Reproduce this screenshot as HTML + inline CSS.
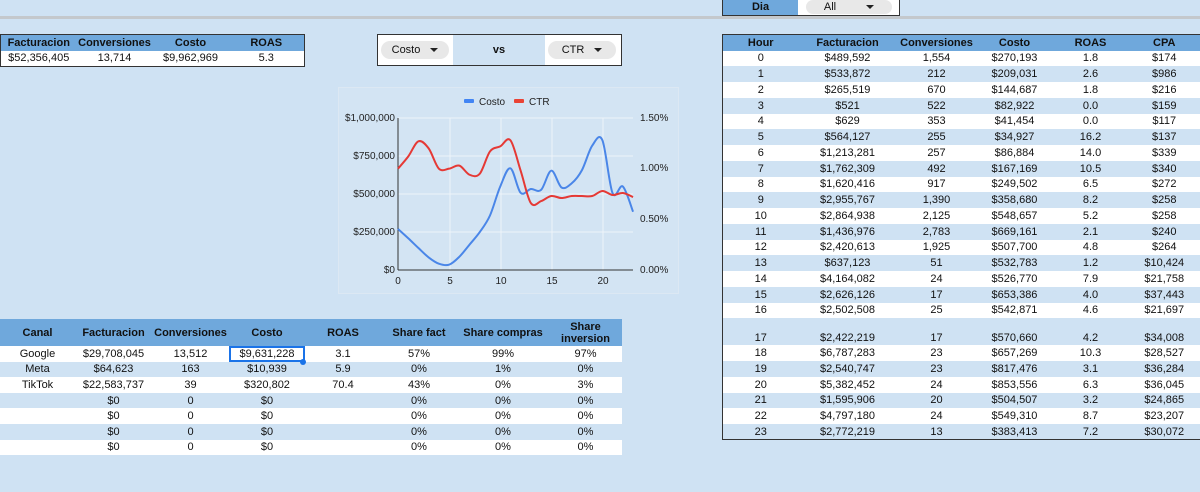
<!DOCTYPE html>
<html><head><meta charset="utf-8">
<style>
*{margin:0;padding:0;box-sizing:border-box}
body{width:1200px;height:492px;background:#cfe2f3;font-family:"Liberation Sans",Arial,sans-serif;font-size:11px;color:#111;position:relative;overflow:hidden}
.abs{position:absolute}
table{border-collapse:collapse;table-layout:fixed;position:absolute}
td,th{text-align:center;padding:0;white-space:nowrap;overflow:hidden}
th{background:#6fa8dc;font-weight:bold;color:#111}
tr.w td{background:#fff}
tr.b td{background:#cfe2f3}
.pill{position:absolute;background:#e8e8e8;border-radius:9px;height:18px;font-size:11px;line-height:18px}
.tri{display:inline-block;width:0;height:0;border-left:4px solid transparent;border-right:4px solid transparent;border-top:4px solid #222;vertical-align:middle;margin-left:10px}
</style></head><body>
<div class="abs" style="left:0;top:16px;width:1200px;height:3px;background:#c4c8cc"></div>
<!-- Dia -->
<div class="abs" style="left:722px;top:0;width:178px;height:16px;border:1px solid #333;border-top:none;background:#fff"></div>
<div class="abs" style="left:723px;top:0;width:75px;height:15px;background:#6fa8dc;font-weight:bold;text-align:center;line-height:15px">Dia</div>
<div class="pill" style="left:806px;top:0;width:86px;height:14px;line-height:14px;text-align:center;background:#e8e8e8">All<span class="tri" style="margin-left:30px"></span></div>

<!-- top-left table -->
<table style="left:0;top:34px;width:304px;border:1px solid #333">
<colgroup><col style="width:76px"><col style="width:76px"><col style="width:76px"><col style="width:76px"></colgroup>
<tr style="height:16px"><th>Facturacion</th><th>Conversiones</th><th>Costo</th><th>ROAS</th></tr>
<tr class="w" style="height:16px"><td>$52,356,405</td><td>13,714</td><td>$9,962,969</td><td>5.3</td></tr>
</table>

<!-- selector -->
<div class="abs" style="left:377px;top:34px;width:245px;height:32px;border:1px solid #333;background:#fff"></div>
<div class="abs" style="left:453px;top:35px;width:92px;height:30px;background:#cfe2f3;text-align:center;line-height:30px;font-weight:bold">vs</div>
<div class="pill" style="left:381px;top:41px;width:68px;text-align:center">Costo<span class="tri"></span></div>
<div class="pill" style="left:548px;top:41px;width:68px;text-align:center">CTR<span class="tri"></span></div>

<!-- chart -->
<div class="abs" style="left:338px;top:87px;width:341px;height:207px;background:#d3e4f3;border:1px solid #dce8f3"></div>
<svg class="abs" style="left:0;top:0" width="1200" height="492" font-family="Liberation Sans, Arial, sans-serif" font-size="10" fill="#222">
<g stroke="#eef4fa" stroke-width="1">
<line x1="398" y1="118" x2="633" y2="118"/><line x1="398" y1="156" x2="633" y2="156"/><line x1="398" y1="194" x2="633" y2="194"/><line x1="398" y1="232" x2="633" y2="232"/>
<line x1="450" y1="118" x2="450" y2="270"/><line x1="501" y1="118" x2="501" y2="270"/><line x1="552" y1="118" x2="552" y2="270"/><line x1="603" y1="118" x2="603" y2="270"/>
</g>
<line x1="398" y1="118" x2="398" y2="270" stroke="#333"/>
<line x1="398" y1="270" x2="633" y2="270" stroke="#333"/>
<g text-anchor="end">
<text x="395" y="121">$1,000,000</text><text x="395" y="159">$750,000</text><text x="395" y="197">$500,000</text><text x="395" y="235">$250,000</text><text x="395" y="273">$0</text>
</g>
<g>
<text x="640" y="121">1.50%</text><text x="640" y="171">1.00%</text><text x="640" y="222">0.50%</text><text x="640" y="273">0.00%</text>
</g>
<g text-anchor="middle">
<text x="398" y="284">0</text><text x="450" y="284">5</text><text x="501" y="284">10</text><text x="552" y="284">15</text><text x="603" y="284">20</text>
</g>
<rect x="464" y="99" width="10" height="4" rx="1" fill="#4285f4"/><text x="479" y="105">Costo</text>
<rect x="514" y="99" width="10" height="4" rx="1" fill="#ea4335"/><text x="529" y="105">CTR</text>
<path id="pc" fill="none" stroke="#4a86e8" stroke-width="2"/>
<path id="pr" fill="none" stroke="#e53935" stroke-width="2"/>
</svg>

<!-- bottom-left table -->
<table style="left:0;top:319px;width:622px">
<colgroup><col style="width:75px"><col style="width:77px"><col style="width:77px"><col style="width:76px"><col style="width:76px"><col style="width:76px"><col style="width:92px"><col style="width:73px"></colgroup>
<tr style="height:27px"><th>Canal</th><th>Facturacion</th><th>Conversiones</th><th>Costo</th><th>ROAS</th><th>Share fact</th><th>Share compras</th><th style="line-height:12px">Share<br>inversion</th></tr>
<tr class="w" style="height:15.6px"><td>Google</td><td>$29,708,045</td><td>13,512</td><td style="outline:2px solid #1a73e8;outline-offset:-2px">$9,631,228</td><td>3.1</td><td>57%</td><td>99%</td><td>97%</td></tr>
<tr class="b" style="height:15.6px"><td>Meta</td><td>$64,623</td><td>163</td><td>$10,939</td><td>5.9</td><td>0%</td><td>1%</td><td>0%</td></tr>
<tr class="w" style="height:15.6px"><td>TikTok</td><td>$22,583,737</td><td>39</td><td>$320,802</td><td>70.4</td><td>43%</td><td>0%</td><td>3%</td></tr>
<tr class="b" style="height:15.6px"><td></td><td>$0</td><td>0</td><td>$0</td><td></td><td>0%</td><td>0%</td><td>0%</td></tr>
<tr class="w" style="height:15.6px"><td></td><td>$0</td><td>0</td><td>$0</td><td></td><td>0%</td><td>0%</td><td>0%</td></tr>
<tr class="b" style="height:15.6px"><td></td><td>$0</td><td>0</td><td>$0</td><td></td><td>0%</td><td>0%</td><td>0%</td></tr>
<tr class="w" style="height:15.6px"><td></td><td>$0</td><td>0</td><td>$0</td><td></td><td>0%</td><td>0%</td><td>0%</td></tr>
</table>
<div class="abs" style="left:300px;top:359px;width:6px;height:6px;border-radius:3px;background:#1a73e8"></div>

<!-- right table -->
<table id="rt" style="left:722px;top:34px;width:478px;border:1px solid #333">
<colgroup><col style="width:76px"><col style="width:98px"><col style="width:80px"><col style="width:76px"><col style="width:76px"><col style="width:72px"></colgroup>
<tr style="height:16px"><th>Hour</th><th>Facturacion</th><th>Conversiones</th><th>Costo</th><th>ROAS</th><th>CPA</th></tr>
</table>

<script>
var rows=[
["0","$489,592","1,554","$270,193","1.8","$174"],
["1","$533,872","212","$209,031","2.6","$986"],
["2","$265,519","670","$144,687","1.8","$216"],
["3","$521","522","$82,922","0.0","$159"],
["4","$629","353","$41,454","0.0","$117"],
["5","$564,127","255","$34,927","16.2","$137"],
["6","$1,213,281","257","$86,884","14.0","$339"],
["7","$1,762,309","492","$167,169","10.5","$340"],
["8","$1,620,416","917","$249,502","6.5","$272"],
["9","$2,955,767","1,390","$358,680","8.2","$258"],
["10","$2,864,938","2,125","$548,657","5.2","$258"],
["11","$1,436,976","2,783","$669,161","2.1","$240"],
["12","$2,420,613","1,925","$507,700","4.8","$264"],
["13","$637,123","51","$532,783","1.2","$10,424"],
["14","$4,164,082","24","$526,770","7.9","$21,758"],
["15","$2,626,126","17","$653,386","4.0","$37,443"],
["16","$2,502,508","25","$542,871","4.6","$21,697"],
["17","$2,422,219","17","$570,660","4.2","$34,008"],
["18","$6,787,283","23","$657,269","10.3","$28,527"],
["19","$2,540,747","23","$817,476","3.1","$36,284"],
["20","$5,382,452","24","$853,556","6.3","$36,045"],
["21","$1,595,906","20","$504,507","3.2","$24,865"],
["22","$4,797,180","24","$549,310","8.7","$23,207"],
["23","$2,772,219","13","$383,413","7.2","$30,072"]];
var t=document.getElementById('rt'),h='';
rows.forEach(function(r,i){
 var ht=i==17?27:15.75, st=i==17?'vertical-align:bottom;padding-bottom:1px':'';
 h+='<tr class="'+(i%2?'b':'w')+'" style="height:'+ht+'px">'+r.map(function(c){return '<td style="'+st+'">'+c+'</td>'}).join('')+'</tr>';
});
t.insertAdjacentHTML('beforeend',h);
function path(ys){
 var p=ys.map(function(y,i){return [398+i*10.22,y]}),d='M'+p[0][0]+','+p[0][1];
 for(var i=0;i<p.length-1;i++){
  var p0=p[i-1]||p[i],p1=p[i],p2=p[i+1],p3=p[i+2]||p2;
  var c1=[p1[0]+(p2[0]-p0[0])/6,p1[1]+(p2[1]-p0[1])/6],c2=[p2[0]-(p3[0]-p1[0])/6,p2[1]-(p3[1]-p1[1])/6];
  d+=' C'+c1.join(',')+' '+c2.join(',')+' '+p2.join(',');
 }
 return d;
}
var cost=[270193,209031,144687,82922,41454,34927,86884,167169,249502,358680,548657,669161,507700,532783,526770,653386,542871,570660,657269,817476,853556,504507,549310,383413];
var ctr=[1.0,1.12,1.27,1.2,1.0,1.0,1.03,0.94,0.95,1.17,1.22,1.28,0.98,0.66,0.68,0.73,0.71,0.73,0.73,0.73,0.78,0.74,0.76,0.72];
document.getElementById('pc').setAttribute('d',path(cost.map(function(v){return 270-v/1e6*152})));
document.getElementById('pr').setAttribute('d',path(ctr.map(function(v){return 270-v/1.5*152})));
</script>
</body></html>
